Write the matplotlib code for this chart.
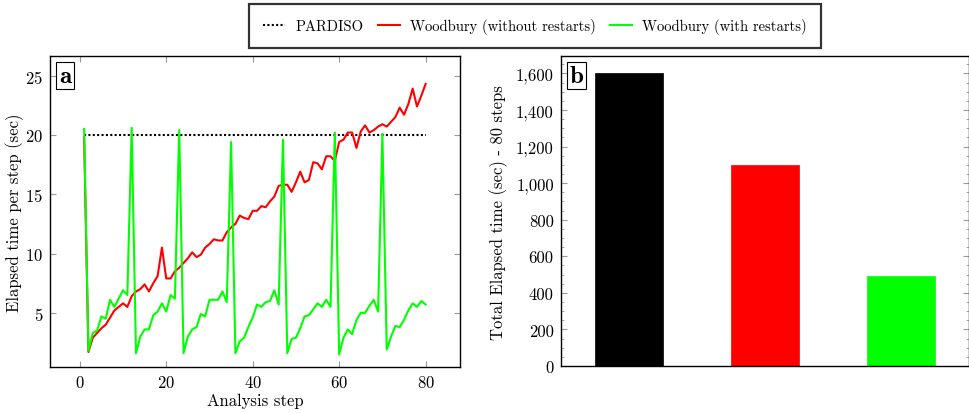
import matplotlib
matplotlib.use("Agg")
import matplotlib.pyplot as plt
from matplotlib.ticker import FuncFormatter, MultipleLocator
import numpy as np

plt.rcParams['font.family'] = ['cmr10', 'DejaVu Serif']
plt.rcParams['mathtext.fontset'] = 'cm'
plt.rcParams['axes.formatter.use_mathtext'] = True

steps = list(range(1, 81))
pardiso = [20.0] * 80
without_restarts = [
    19.8, 1.7, 2.9, 3.3, 3.7, 4.0, 4.6, 5.2, 5.5, 5.8,
    5.5, 6.4, 6.8, 7.0, 7.4, 6.8, 7.5, 8.1, 10.5, 7.9,
    7.9, 8.5, 8.8, 9.2, 9.6, 10.1, 9.7, 9.9, 10.5, 10.8,
    11.2, 11.1, 11.1, 11.8, 12.2, 12.5, 13.2, 13.0, 12.9, 13.6,
    13.6, 14.0, 13.9, 14.4, 14.8, 15.7, 15.8, 15.8, 15.2, 16.0,
    16.9, 16.0, 16.2, 17.7, 17.6, 17.1, 18.2, 18.2, 17.8, 19.4,
    19.6, 20.2, 20.2, 18.9, 20.3, 20.8, 20.2, 20.4, 20.7, 20.9,
    20.7, 21.1, 21.5, 22.3, 21.7, 22.6, 23.9, 22.4, 23.3, 24.3]
with_restarts = [
    20.5, 1.8, 3.3, 3.5, 4.7, 4.5, 6.1, 5.5, 6.2, 6.9,
    6.5, 20.6, 1.6, 3.0, 3.6, 3.6, 4.8, 5.1, 5.8, 5.1,
    6.5, 6.2, 20.4, 1.6, 3.0, 3.6, 3.8, 4.9, 4.7, 6.1,
    6.1, 6.1, 6.8, 5.9, 19.4, 1.6, 2.6, 2.9, 3.8, 4.6,
    5.7, 5.5, 5.9, 6.0, 6.9, 5.7, 19.6, 1.6, 2.8, 2.9,
    3.7, 4.7, 4.8, 5.3, 5.8, 5.5, 6.1, 5.5, 20.2, 1.5,
    2.9, 3.6, 3.2, 4.4, 5.0, 5.0, 5.6, 6.1, 5.1, 20.1,
    1.9, 3.0, 3.9, 3.8, 4.4, 5.2, 5.8, 5.5, 6.0, 5.7]

methods = ['PARDISO', 'Woodbury (without restarts)', 'Woodbury (with restarts)']
totals = [1600, 1100, 490]
colors = ['black', '#ff0000', '#00ff00']

fig = plt.figure(figsize=(9.7, 4.14), dpi=100)
ax1 = fig.add_axes([0.0515, 0.111, 0.4225, 0.751])
ax2 = fig.add_axes([0.578, 0.1135, 0.421, 0.7485])

l1, = ax1.plot(steps, pardiso, color='black', linestyle=(0, (1, 1.1)), linewidth=1.5, label=methods[0])
l2, = ax1.plot(steps, without_restarts, color=colors[1], linewidth=1.5, label=methods[1])
l3, = ax1.plot(steps, with_restarts, color=colors[2], linewidth=1.5, label=methods[2])
ax1.set_xlim(-6.9, 87.9)
ax1.set_ylim(0.43, 26.64)
ax1.set_xticks([0, 20, 40, 60, 80])
ax1.set_yticks([5, 10, 15, 20, 25])
ax1.set_xlabel('Analysis step', fontsize=12, labelpad=2)
ax1.set_ylabel('Elapsed time per step (sec)', fontsize=12, labelpad=1)
ax1.tick_params(direction='in', top=True, right=True, length=4.5, color='#999999',
                labelsize=12, pad=5)
ax1.text(0.022, 0.972, 'a', transform=ax1.transAxes, family='cmb10', fontsize=18,
         va='top', ha='left',
         bbox=dict(boxstyle='square,pad=0.1', facecolor='white', edgecolor='black', linewidth=0.8))

x = np.arange(len(totals))
ax2.bar(x, totals, width=0.5, color=colors, edgecolor=colors, linewidth=0.5)
ax2.set_xlim(-0.5, 2.5)
ax2.set_ylim(0, 1695)
ax2.set_xticks([])
ax2.yaxis.set_major_locator(MultipleLocator(200))
ax2.yaxis.set_minor_locator(MultipleLocator(50))
ax2.yaxis.set_major_formatter(FuncFormatter(lambda v, p: f'{int(v):,}'))
ax2.set_ylabel('Total Elapsed time (sec) - 80 steps', fontsize=12, labelpad=6)
ax2.tick_params(axis='y', which='both', direction='in', left=True, right=True, color='#999999',
                labelsize=12, pad=5)
ax2.tick_params(axis='y', which='major', length=4.5)
ax2.tick_params(axis='y', which='minor', length=2.5)
ax2.text(0.022, 0.972, 'b', transform=ax2.transAxes, family='cmb10', fontsize=18,
         va='top', ha='left',
         bbox=dict(boxstyle='square,pad=0.1', facecolor='white', edgecolor='black', linewidth=0.8))

for ax in (ax1, ax2):
    for s in ax.spines.values():
        s.set_linewidth(1.0)
        s.set_color('black')

leg = fig.legend(handles=[l1, l2, l3], loc='upper center', bbox_to_anchor=(0.5515, 0.988),
                 borderaxespad=0,
                 ncol=3, fontsize=10.5, frameon=True, fancybox=False, handlelength=1.5,
                 columnspacing=1.0, handletextpad=0.7, borderpad=0.95)
leg.get_frame().set_edgecolor('black')
leg.get_frame().set_linewidth(1.6)

fig.savefig('out.png', dpi=100)
